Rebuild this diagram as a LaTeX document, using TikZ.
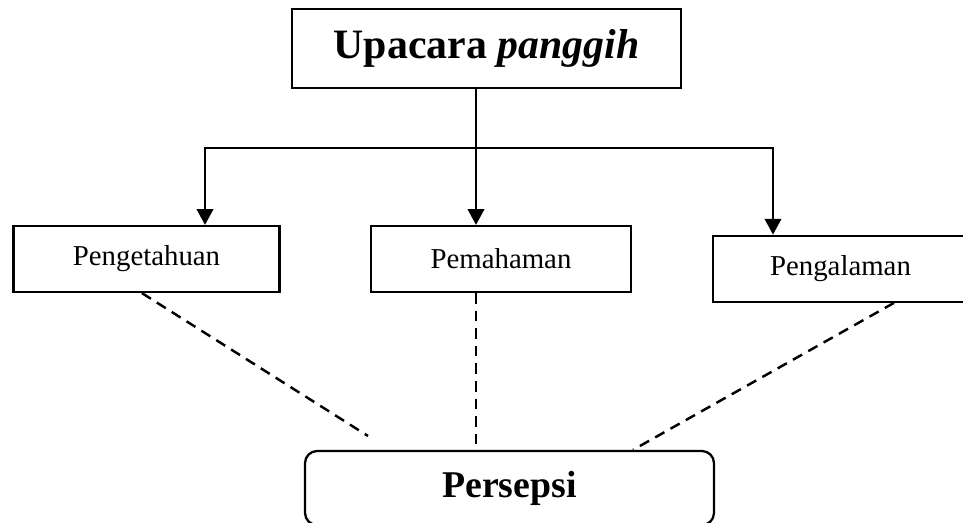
\documentclass[tikz,border=0pt]{standalone}
\usepackage{fontspec}
\setmainfont{Liberation Serif}
\usetikzlibrary{arrows.meta}

\tikzset{
	box/.style={draw, line width=1.3pt, inner sep=0pt, font=\fontsize{16.4}{19}\selectfont},
	link/.style={line width=1pt, -{Triangle[length=9pt,width=9.5pt]}},
	dotlink/.style={line width=1.4pt, dash pattern=on 6pt off 4pt}
}

\begin{document}
\begin{tikzpicture}[x=0.02cm, y=-0.02cm]
			\useasboundingbox (0,0) rectangle (963,522);
			\node[box, minimum width=7.78cm, minimum height=1.58cm, font=\fontsize{23.8}{28}\selectfont\bfseries] (upacara) at (486.5,48.5){Upacara \textit{panggih}};
			\node[box, minimum width=5.32cm, minimum height=1.32cm] (pengetahuan) at (146.5,259){Pengetahuan};
			\node[box, minimum width=5.2cm, minimum height=1.32cm] (pemahaman) at (501,259){Pemahaman};
			\node[box, minimum width=5.1cm, minimum height=1.32cm] (pengalaman) at (840.5,268.7){Pengalaman};
			\node[box, rounded corners=0.24cm, minimum width=8.18cm, minimum height=1.48cm, font=\fontsize{21.5}{25}\selectfont\bfseries] (persepsi) at (509.5,488){Persepsi};
			%%%%%%%%%%%%%%%%%%%%%%%%%%%%%%%%
			\coordinate (split) at (476,148);
			\coordinate (jl) at (205,148);
			\coordinate (jr) at (773,148);
			\draw[line width=1pt] (split |- upacara.south)--(split);
			\draw[link] (split)--(split |- pemahaman.north);
			\draw[link] (split)--(jl)--(jl |- pengetahuan.north);
			\draw[link] (split)--(jr)--(jr |- pengalaman.north);
			%%%%%%%%%%%%%%%%%%%%%%%%%%%%%
			\coordinate (lend) at (368,436);
			\coordinate (rend) at (633,451);
			\draw[dotlink] ([xshift=-0.09cm]pengetahuan.south)--(lend);
			\draw[dotlink] (split |- pemahaman.south)--(split |- persepsi.north);
			\draw[dotlink] ([xshift=1.07cm]pengalaman.south)--(rend |- persepsi.north);
		\end{tikzpicture}
\end{document}
